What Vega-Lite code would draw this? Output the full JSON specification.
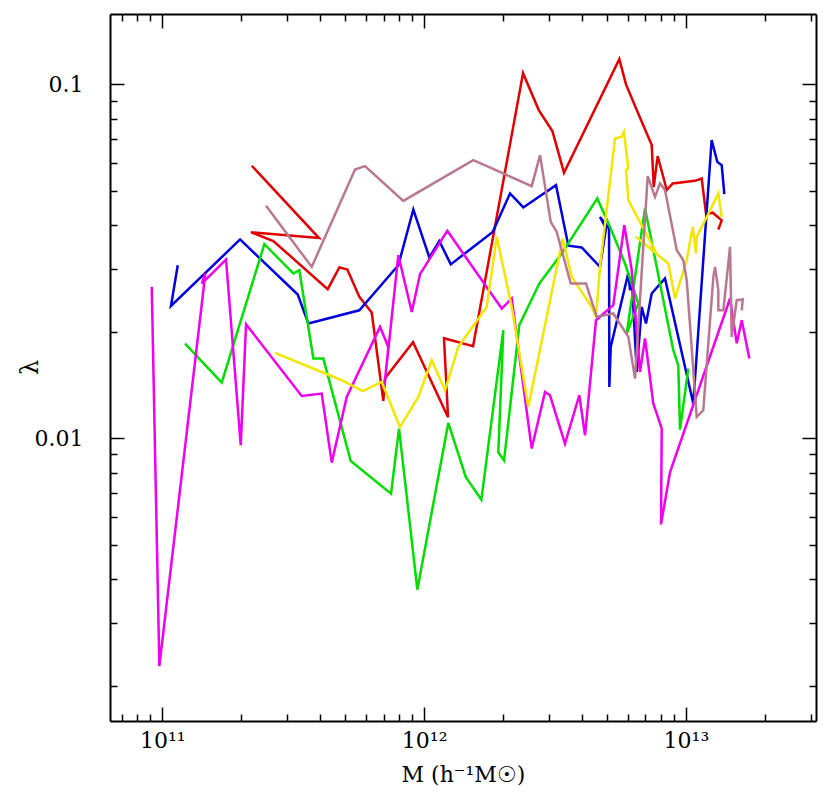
{
  "$schema": "https://vega.github.io/schema/vega-lite/v6.json",
  "width": 706,
  "height": 707,
  "autosize": "none",
  "padding": {"left": 110, "top": 14, "right": 14, "bottom": 73},
  "background": "white",
  "config": {"view": {"stroke": null}},
  "datasets": {
    "tracks": [
      {"series":"red","i":1,"M":2.196e11,"lambda":0.0589},
      {"series":"red","i":2,"M":3.968e11,"lambda":0.0368},
      {"series":"red","i":3,"M":2.182e11,"lambda":0.0382},
      {"series":"red","i":4,"M":2.655e11,"lambda":0.0361},
      {"series":"red","i":5,"M":4.283e11,"lambda":0.02638},
      {"series":"red","i":6,"M":4.745e11,"lambda":0.0304},
      {"series":"red","i":7,"M":5.09e11,"lambda":0.0300},
      {"series":"red","i":8,"M":5.655e11,"lambda":0.0251},
      {"series":"red","i":9,"M":6.307e11,"lambda":0.02266},
      {"series":"red","i":10,"M":6.985e11,"lambda":0.01275},
      {"series":"red","i":11,"M":7.09e11,"lambda":0.01478},
      {"series":"red","i":12,"M":9.07e11,"lambda":0.01868},
      {"series":"red","i":13,"M":1.234e12,"lambda":0.01147},
      {"series":"red","i":14,"M":1.191e12,"lambda":0.01918},
      {"series":"red","i":15,"M":1.538e12,"lambda":0.0182},
      {"series":"red","i":16,"M":2.387e12,"lambda":0.1076},
      {"series":"red","i":17,"M":2.741e12,"lambda":0.0846},
      {"series":"red","i":18,"M":3.09e12,"lambda":0.0738},
      {"series":"red","i":19,"M":3.422e12,"lambda":0.0563},
      {"series":"red","i":20,"M":5.567e12,"lambda":0.1179},
      {"series":"red","i":21,"M":5.904e12,"lambda":0.1},
      {"series":"red","i":22,"M":6.488e12,"lambda":0.0846},
      {"series":"red","i":23,"M":7.402e12,"lambda":0.0674},
      {"series":"red","i":24,"M":7.534e12,"lambda":0.0513},
      {"series":"red","i":25,"M":7.80e12,"lambda":0.0627},
      {"series":"red","i":26,"M":8.45e12,"lambda":0.0503},
      {"series":"red","i":27,"M":8.905e12,"lambda":0.0525},
      {"series":"red","i":28,"M":1.083e13,"lambda":0.0534},
      {"series":"red","i":29,"M":1.149e13,"lambda":0.0542},
      {"series":"red","i":30,"M":1.194e13,"lambda":0.0430},
      {"series":"red","i":31,"M":1.266e13,"lambda":0.0434},
      {"series":"red","i":32,"M":1.37e13,"lambda":0.0413},
      {"series":"red","i":33,"M":1.33e13,"lambda":0.0389},

      {"series":"blue","i":1,"M":1.145e11,"lambda":0.03084},
      {"series":"blue","i":2,"M":1.079e11,"lambda":0.02366},
      {"series":"blue","i":3,"M":1.981e11,"lambda":0.03646},
      {"series":"blue","i":4,"M":3.290e11,"lambda":0.02548},
      {"series":"blue","i":5,"M":3.612e11,"lambda":0.0211},
      {"series":"blue","i":6,"M":5.655e11,"lambda":0.0230},
      {"series":"blue","i":7,"M":7.97e11,"lambda":0.03084},
      {"series":"blue","i":8,"M":9.094e11,"lambda":0.0443},
      {"series":"blue","i":9,"M":1.047e12,"lambda":0.03243},
      {"series":"blue","i":10,"M":1.143e12,"lambda":0.0361},
      {"series":"blue","i":11,"M":1.264e12,"lambda":0.0310},
      {"series":"blue","i":12,"M":1.828e12,"lambda":0.0383},
      {"series":"blue","i":13,"M":2.129e12,"lambda":0.0492},
      {"series":"blue","i":14,"M":2.393e12,"lambda":0.0449},
      {"series":"blue","i":15,"M":3.19e12,"lambda":0.0519},
      {"series":"blue","i":16,"M":3.555e12,"lambda":0.035},
      {"series":"blue","i":17,"M":4.0e12,"lambda":0.0346},
      {"series":"blue","i":18,"M":4.697e12,"lambda":0.0305},
      {"series":"blue","i":19,"M":4.953e12,"lambda":0.0392},
      {"series":"blue","i":20,"M":4.697e12,"lambda":0.0422},
      {"series":"blue","i":21,"M":5.086e12,"lambda":0.0392},
      {"series":"blue","i":22,"M":5.099e12,"lambda":0.01396},
      {"series":"blue","i":23,"M":5.162e12,"lambda":0.01812},
      {"series":"blue","i":24,"M":6.026e12,"lambda":0.0293},
      {"series":"blue","i":25,"M":6.117e12,"lambda":0.02622},
      {"series":"blue","i":26,"M":6.225e12,"lambda":0.0276},
      {"series":"blue","i":27,"M":6.488e12,"lambda":0.0154},
      {"series":"blue","i":28,"M":6.78e12,"lambda":0.0235},
      {"series":"blue","i":29,"M":7.04e12,"lambda":0.0211},
      {"series":"blue","i":30,"M":7.40e12,"lambda":0.02565},
      {"series":"blue","i":31,"M":8.32e12,"lambda":0.0283},
      {"series":"blue","i":32,"M":1.067e13,"lambda":0.01254},
      {"series":"blue","i":33,"M":1.254e13,"lambda":0.0696},
      {"series":"blue","i":34,"M":1.318e13,"lambda":0.0604},
      {"series":"blue","i":35,"M":1.37e13,"lambda":0.0591},
      {"series":"blue","i":36,"M":1.402e13,"lambda":0.049},

      {"series":"green","i":1,"M":1.221e11,"lambda":0.01852},
      {"series":"green","i":2,"M":1.686e11,"lambda":0.01437},
      {"series":"green","i":3,"M":2.453e11,"lambda":0.03536},
      {"series":"green","i":4,"M":3.165e11,"lambda":0.02922},
      {"series":"green","i":5,"M":3.336e11,"lambda":0.02985},
      {"series":"green","i":6,"M":3.774e11,"lambda":0.0168},
      {"series":"green","i":7,"M":4.121e11,"lambda":0.0168},
      {"series":"green","i":8,"M":5.244e11,"lambda":0.008626},
      {"series":"green","i":9,"M":7.474e11,"lambda":0.006977},
      {"series":"green","i":10,"M":8.019e11,"lambda":0.01065},
      {"series":"green","i":11,"M":9.42e11,"lambda":0.003734},
      {"series":"green","i":12,"M":1.237e12,"lambda":0.01105},
      {"series":"green","i":13,"M":1.442e12,"lambda":0.007774},
      {"series":"green","i":14,"M":1.654e12,"lambda":0.006711},
      {"series":"green","i":15,"M":2.007e12,"lambda":0.0202},
      {"series":"green","i":16,"M":1.920e12,"lambda":0.009129},
      {"series":"green","i":17,"M":2.02e12,"lambda":0.008666},
      {"series":"green","i":18,"M":2.31e12,"lambda":0.02087},
      {"series":"green","i":19,"M":2.754e12,"lambda":0.02737},
      {"series":"green","i":20,"M":3.354e12,"lambda":0.03328},
      {"series":"green","i":21,"M":4.587e12,"lambda":0.04762},
      {"series":"green","i":22,"M":5.13e12,"lambda":0.03957},
      {"series":"green","i":23,"M":5.853e12,"lambda":0.03118},
      {"series":"green","i":24,"M":6.58e12,"lambda":0.02403},
      {"series":"green","i":25,"M":5.94e12,"lambda":0.01977},
      {"series":"green","i":26,"M":6.98e12,"lambda":0.04461},
      {"series":"green","i":27,"M":8.95e12,"lambda":0.01774},
      {"series":"green","i":28,"M":9.35e12,"lambda":0.01608},
      {"series":"green","i":29,"M":9.495e12,"lambda":0.01058},
      {"series":"green","i":30,"M":1.021e13,"lambda":0.01574},

      {"series":"magenta","i":1,"M":9.11e10,"lambda":0.02678},
      {"series":"magenta","i":2,"M":9.74e10,"lambda":0.00227},
      {"series":"magenta","i":3,"M":1.46e11,"lambda":0.02922},
      {"series":"magenta","i":4,"M":1.415e11,"lambda":0.02737},
      {"series":"magenta","i":5,"M":1.751e11,"lambda":0.032},
      {"series":"magenta","i":6,"M":1.993e11,"lambda":0.009554},
      {"series":"magenta","i":7,"M":2.088e11,"lambda":0.021},
      {"series":"magenta","i":8,"M":3.407e11,"lambda":0.01317},
      {"series":"magenta","i":9,"M":4.063e11,"lambda":0.01338},
      {"series":"magenta","i":10,"M":4.437e11,"lambda":0.008537},
      {"series":"magenta","i":11,"M":5.063e11,"lambda":0.01309},
      {"series":"magenta","i":12,"M":6.786e11,"lambda":0.02064},
      {"series":"magenta","i":13,"M":7.30e11,"lambda":0.01812},
      {"series":"magenta","i":14,"M":7.028e11,"lambda":0.01367},
      {"series":"magenta","i":15,"M":7.97e11,"lambda":0.03292},
      {"series":"magenta","i":16,"M":8.97e11,"lambda":0.02275},
      {"series":"magenta","i":17,"M":9.645e11,"lambda":0.02909},
      {"series":"magenta","i":18,"M":1.226e12,"lambda":0.03856},
      {"series":"magenta","i":19,"M":1.979e12,"lambda":0.02326},
      {"series":"magenta","i":20,"M":2.161e12,"lambda":0.02483},
      {"series":"magenta","i":21,"M":2.576e12,"lambda":0.009352},
      {"series":"magenta","i":22,"M":2.896e12,"lambda":0.01352},
      {"series":"magenta","i":23,"M":3.026e12,"lambda":0.01323},
      {"series":"magenta","i":24,"M":3.452e12,"lambda":0.009661},
      {"series":"magenta","i":25,"M":3.915e12,"lambda":0.01323},
      {"series":"magenta","i":26,"M":4.118e12,"lambda":0.0102},
      {"series":"magenta","i":27,"M":4.535e12,"lambda":0.02156},
      {"series":"magenta","i":28,"M":5.28e12,"lambda":0.02377},
      {"series":"magenta","i":29,"M":5.817e12,"lambda":0.040},
      {"series":"magenta","i":30,"M":6.209e12,"lambda":0.02985},
      {"series":"magenta","i":31,"M":6.68e12,"lambda":0.0154},
      {"series":"magenta","i":32,"M":6.98e12,"lambda":0.01914},
      {"series":"magenta","i":33,"M":7.507e12,"lambda":0.01254},
      {"series":"magenta","i":34,"M":8.083e12,"lambda":0.01065},
      {"series":"magenta","i":35,"M":8.033e12,"lambda":0.00571},
      {"series":"magenta","i":36,"M":8.70e12,"lambda":0.00803},
      {"series":"magenta","i":37,"M":1.474e13,"lambda":0.02483},
      {"series":"magenta","i":38,"M":1.564e13,"lambda":0.01856},
      {"series":"magenta","i":39,"M":1.634e13,"lambda":0.02156},
      {"series":"magenta","i":40,"M":1.747e13,"lambda":0.0168},

      {"series":"yellow","i":1,"M":2.695e11,"lambda":0.01743},
      {"series":"yellow","i":2,"M":4.846e11,"lambda":0.01459},
      {"series":"yellow","i":3,"M":5.83e11,"lambda":0.0136},
      {"series":"yellow","i":4,"M":6.887e11,"lambda":0.01443},
      {"series":"yellow","i":5,"M":8.088e11,"lambda":0.01076},
      {"series":"yellow","i":6,"M":9.502e11,"lambda":0.01309},
      {"series":"yellow","i":7,"M":1.069e12,"lambda":0.01662},
      {"series":"yellow","i":8,"M":1.202e12,"lambda":0.01367},
      {"series":"yellow","i":9,"M":1.351e12,"lambda":0.01812},
      {"series":"yellow","i":10,"M":1.734e12,"lambda":0.0235},
      {"series":"yellow","i":11,"M":1.894e12,"lambda":0.03708},
      {"series":"yellow","i":12,"M":2.161e12,"lambda":0.0235},
      {"series":"yellow","i":13,"M":2.50e12,"lambda":0.01226},
      {"series":"yellow","i":14,"M":3.383e12,"lambda":0.03669},
      {"series":"yellow","i":15,"M":3.663e12,"lambda":0.02858},
      {"series":"yellow","i":16,"M":4.0e12,"lambda":0.02592},
      {"series":"yellow","i":17,"M":4.367e12,"lambda":0.0235},
      {"series":"yellow","i":18,"M":4.535e12,"lambda":0.02203},
      {"series":"yellow","i":19,"M":4.697e12,"lambda":0.0305},
      {"series":"yellow","i":20,"M":5.36e12,"lambda":0.07036},
      {"series":"yellow","i":21,"M":5.686e12,"lambda":0.07111},
      {"series":"yellow","i":22,"M":5.80e12,"lambda":0.07345},
      {"series":"yellow","i":23,"M":6.026e12,"lambda":0.05786},
      {"series":"yellow","i":24,"M":5.904e12,"lambda":0.0573},
      {"series":"yellow","i":25,"M":6.026e12,"lambda":0.0471},
      {"series":"yellow","i":26,"M":7.735e12,"lambda":0.03328},
      {"series":"yellow","i":27,"M":6.45e12,"lambda":0.03708},
      {"series":"yellow","i":28,"M":8.57e12,"lambda":0.03118},
      {"series":"yellow","i":29,"M":9.087e12,"lambda":0.02483},
      {"series":"yellow","i":30,"M":1.007e13,"lambda":0.03186},
      {"series":"yellow","i":31,"M":1.062e13,"lambda":0.03957},
      {"series":"yellow","i":32,"M":1.093e13,"lambda":0.03328},
      {"series":"yellow","i":33,"M":1.1e13,"lambda":0.03708},
      {"series":"yellow","i":34,"M":1.201e13,"lambda":0.0422},
      {"series":"yellow","i":35,"M":1.33e13,"lambda":0.0492},
      {"series":"yellow","i":36,"M":1.37e13,"lambda":0.0422},

      {"series":"rosy","i":1,"M":2.489e11,"lambda":0.04538},
      {"series":"rosy","i":2,"M":3.721e11,"lambda":0.0305},
      {"series":"rosy","i":3,"M":5.445e11,"lambda":0.05749},
      {"series":"rosy","i":4,"M":5.946e11,"lambda":0.05875},
      {"series":"rosy","i":5,"M":8.326e11,"lambda":0.04687},
      {"series":"rosy","i":6,"M":1.541e12,"lambda":0.06109},
      {"series":"rosy","i":7,"M":2.576e12,"lambda":0.05158},
      {"series":"rosy","i":8,"M":2.772e12,"lambda":0.06311},
      {"series":"rosy","i":9,"M":3.045e12,"lambda":0.04088},
      {"series":"rosy","i":10,"M":3.21e12,"lambda":0.0383},
      {"series":"rosy","i":11,"M":3.631e12,"lambda":0.02737},
      {"series":"rosy","i":12,"M":4.153e12,"lambda":0.02737},
      {"series":"rosy","i":13,"M":4.563e12,"lambda":0.02203},
      {"series":"rosy","i":14,"M":5.28e12,"lambda":0.02252},
      {"series":"rosy","i":15,"M":6.026e12,"lambda":0.01934},
      {"series":"rosy","i":16,"M":6.392e12,"lambda":0.01475},
      {"series":"rosy","i":17,"M":7.146e12,"lambda":0.05505},
      {"series":"rosy","i":18,"M":7.621e12,"lambda":0.04811},
      {"series":"rosy","i":19,"M":7.963e12,"lambda":0.0525},
      {"series":"rosy","i":20,"M":8.32e12,"lambda":0.0503},
      {"series":"rosy","i":21,"M":9.225e12,"lambda":0.034},
      {"series":"rosy","i":22,"M":9.772e12,"lambda":0.03186},
      {"series":"rosy","i":23,"M":1.007e13,"lambda":0.028},
      {"series":"rosy","i":24,"M":1.1e13,"lambda":0.01149},
      {"series":"rosy","i":25,"M":1.165e13,"lambda":0.012},
      {"series":"rosy","i":26,"M":1.273e13,"lambda":0.02858},
      {"series":"rosy","i":27,"M":1.292e13,"lambda":0.0305},
      {"series":"rosy","i":28,"M":1.33e13,"lambda":0.02622},
      {"series":"rosy","i":29,"M":1.33e13,"lambda":0.0230},
      {"series":"rosy","i":30,"M":1.39e13,"lambda":0.0230},
      {"series":"rosy","i":31,"M":1.474e13,"lambda":0.03474},
      {"series":"rosy","i":32,"M":1.496e13,"lambda":0.01934},
      {"series":"rosy","i":33,"M":1.564e13,"lambda":0.02456},
      {"series":"rosy","i":34,"M":1.648e13,"lambda":0.02467},
      {"series":"rosy","i":35,"M":1.634e13,"lambda":0.0230}
    ]
  },
  "data": {"name": "tracks"},
  "resolve": {"axis": {"x": "independent", "y": "independent"}},
  "layer": [
    {
      "mark": {"type": "line", "strokeWidth": 2.5, "clip": true},
      "encoding": {
        "x": {
          "field": "M", "type": "quantitative",
          "scale": {"type": "log", "domain": [6.31e10, 3.14e13], "nice": false, "zero": false},
          "axis": {
            "orient": "bottom",
            "values": [7e10, 8e10, 9e10, 1e11, 2e11, 3e11, 4e11, 5e11, 6e11, 7e11, 8e11, 9e11, 1e12, 2e12, 3e12, 4e12, 5e12, 6e12, 7e12, 8e12, 9e12, 1e13, 2e13, 3e13],
            "labelExpr": "abs(log(datum.value)/LN10 - round(log(datum.value)/LN10)) < 0.001 ? '10' + (datum.value < 5e11 ? '¹¹' : datum.value < 5e12 ? '¹²' : '¹³') : ''",
            "tickSize": {"condition": {"test": "abs(log(datum.value)/LN10 - round(log(datum.value)/LN10)) < 0.001", "value": -14}, "value": -7},
            "tickColor": "black", "tickWidth": 1.5,
            "domainColor": "black", "domainWidth": 2,
            "grid": false, "labelOverlap": false, "labelBound": false, "labelFlush": false,
            "labelFont": "DejaVu Serif", "labelFontSize": 22, "labelColor": "black", "labelPadding": 23,
            "title": "M (h⁻¹M☉)", "titleFont": "DejaVu Serif", "titleFontSize": 22, "titleFontWeight": "normal", "titleColor": "black",
            "titleY": 53, "titleBaseline": "middle"
          }
        },
        "y": {
          "field": "lambda", "type": "quantitative",
          "scale": {"type": "log", "domain": [0.001589, 0.1581], "nice": false, "zero": false},
          "axis": {
            "orient": "left",
            "values": [0.002, 0.003, 0.004, 0.005, 0.006, 0.007, 0.008, 0.009, 0.01, 0.02, 0.03, 0.04, 0.05, 0.06, 0.07, 0.08, 0.09, 0.1],
            "labelExpr": "abs(log(datum.value)/LN10 - round(log(datum.value)/LN10)) < 0.001 ? (datum.value > 0.05 ? '0.1' : '0.01') : ''",
            "tickSize": {"condition": {"test": "abs(log(datum.value)/LN10 - round(log(datum.value)/LN10)) < 0.001", "value": -14}, "value": -7},
            "tickColor": "black", "tickWidth": 1.5,
            "domainColor": "black", "domainWidth": 2,
            "grid": false, "labelOverlap": false, "labelBound": false, "labelFlush": false,
            "labelFont": "DejaVu Serif", "labelFontSize": 22, "labelColor": "black", "labelPadding": 41,
            "title": "λ", "titleFont": "DejaVu Serif", "titleFontSize": 24, "titleFontWeight": "normal", "titleColor": "black",
            "titleX": -80, "titleY": 353, "titleAlign": "center", "titleBaseline": "middle", "titleAngle": -90
          }
        },
        "color": {
          "field": "series", "type": "nominal", "legend": null,
          "scale": {"domain": ["green", "rosy", "yellow", "blue", "red", "magenta"], "range": ["#00dd00", "#b87890", "#f2e600", "#0000dd", "#e00000", "#ee00ee"]}
        },
        "order": {"field": "i", "type": "quantitative"}
      }
    },
    {
      "mark": {"type": "point", "opacity": 0},
      "encoding": {
        "x": {
          "field": "M", "type": "quantitative",
          "axis": {
            "orient": "top",
            "values": [7e10, 8e10, 9e10, 1e11, 2e11, 3e11, 4e11, 5e11, 6e11, 7e11, 8e11, 9e11, 1e12, 2e12, 3e12, 4e12, 5e12, 6e12, 7e12, 8e12, 9e12, 1e13, 2e13, 3e13],
            "labels": false,
            "tickSize": {"condition": {"test": "abs(log(datum.value)/LN10 - round(log(datum.value)/LN10)) < 0.001", "value": -14}, "value": -7},
            "tickColor": "black", "tickWidth": 1.5,
            "domainColor": "black", "domainWidth": 2, "grid": false, "title": null
          }
        },
        "y": {
          "field": "lambda", "type": "quantitative",
          "axis": {
            "orient": "right",
            "values": [0.002, 0.003, 0.004, 0.005, 0.006, 0.007, 0.008, 0.009, 0.01, 0.02, 0.03, 0.04, 0.05, 0.06, 0.07, 0.08, 0.09, 0.1],
            "labels": false,
            "tickSize": {"condition": {"test": "abs(log(datum.value)/LN10 - round(log(datum.value)/LN10)) < 0.001", "value": -14}, "value": -7},
            "tickColor": "black", "tickWidth": 1.5,
            "domainColor": "black", "domainWidth": 2, "grid": false, "title": null
          }
        }
      }
    }
  ]
}
